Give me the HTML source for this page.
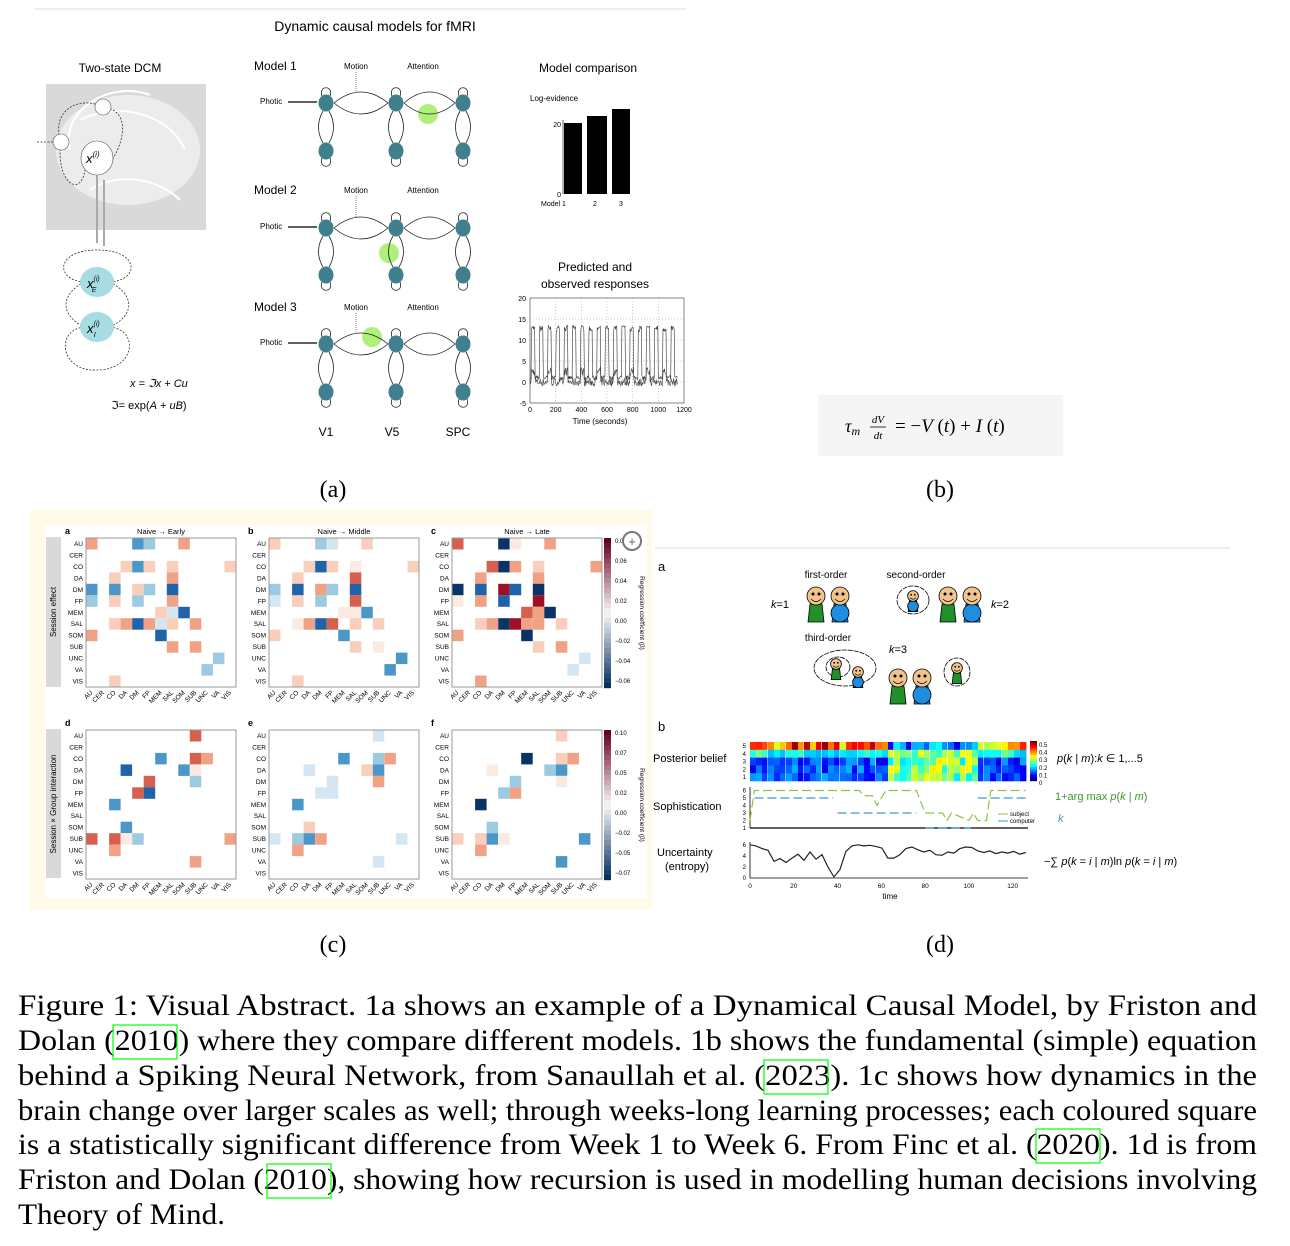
<!DOCTYPE html>
<html><head><meta charset="utf-8">
<style>
html,body{margin:0;padding:0;background:#fff;}
svg{display:block;}
text{font-family:"Liberation Sans",sans-serif;}
.serif{font-family:"Liberation Serif",serif;}
</style></head>
<body>
<svg id="s" width="1290" height="1246" viewBox="0 0 1290 1246" xmlns="http://www.w3.org/2000/svg">
<!-- Panel (a) -->
<line x1="35" y1="9" x2="686" y2="9" stroke="#ddd" stroke-width="1"/>
<text x="375" y="31" font-size="14" text-anchor="middle">Dynamic causal models  for fMRI</text>
<text x="120" y="72" font-size="12" text-anchor="middle">Two-state DCM</text>
<rect x="46" y="84" width="160" height="146" fill="#d9d9d9"/>
<ellipse cx="128" cy="150" rx="72" ry="55" fill="#ececec"/>
<path d="M70 150 C60 110 110 80 150 95 M80 120 C120 100 170 115 185 150 M90 190 C120 170 160 180 180 200" stroke="#fff" fill="none" stroke-width="2"/>
<path d="M61 142 C50 110 80 95 103 107 M103 107 C130 110 125 140 112 160 M61 142 C55 180 80 200 85 170 M37 142 L53 142" stroke="#333" fill="none" stroke-dasharray="2,1.5" stroke-width="0.8"/>
<circle cx="103" cy="107" r="8" fill="#fff" stroke="#555" stroke-width="0.6"/>
<circle cx="61" cy="142" r="8" fill="#fff" stroke="#555" stroke-width="0.6"/>
<ellipse cx="97" cy="158" rx="16" ry="17" fill="#fff" stroke="#555" stroke-width="0.6"/>
<text x="86" y="163" font-size="13" font-style="italic">x<tspan font-size="8" dy="-6">(i)</tspan></text>
<line x1="97" y1="175" x2="97" y2="243" stroke="#aaa" stroke-width="2"/>
<line x1="104" y1="180" x2="104" y2="246" stroke="#aaa" stroke-width="2"/>
<path d="M97 250 C55 250 55 280 84 282 M110 282 C140 280 140 250 97 250 M84 327 C55 330 60 372 97 370 C135 370 140 330 110 327 M84 282 C60 295 60 315 84 327 M110 282 C135 295 135 315 110 327" stroke="#333" fill="none" stroke-dasharray="2,1.5" stroke-width="0.8"/>
<ellipse cx="97" cy="282" rx="17" ry="15" fill="#a8dce3"/>
<ellipse cx="97" cy="327" rx="17" ry="15" fill="#a8dce3"/>
<text x="87" y="288" font-size="13" font-style="italic">x<tspan font-size="7" dy="-7">(i)</tspan><tspan font-size="7" dx="-8" dy="11">E</tspan></text>
<text x="87" y="333" font-size="13" font-style="italic">x<tspan font-size="7" dy="-7">(i)</tspan><tspan font-size="7" dx="-6" dy="11">I</tspan></text>
<text x="130" y="387" font-size="11" font-style="italic">x = ℑx + Cu</text>
<text x="111" y="409" font-size="11">ℑ= exp(<tspan font-style="italic">A</tspan> + <tspan font-style="italic">uB</tspan>)</text>
<g id="models"></g>
<text x="326" y="436" font-size="12" text-anchor="middle">V1</text>
<text x="392" y="436" font-size="12" text-anchor="middle">V5</text>
<text x="458" y="436" font-size="12" text-anchor="middle">SPC</text>
<text x="588" y="72" font-size="12" text-anchor="middle">Model comparison</text>
<text x="530" y="101" font-size="8">Log-evidence</text>
<line x1="563" y1="120" x2="563" y2="194" stroke="#000" stroke-width="0.6"/>
<text x="561" y="127" font-size="7" text-anchor="end">20</text>
<text x="561" y="197" font-size="7" text-anchor="end">0</text>
<rect x="564" y="123" width="18" height="71" fill="#000"/>
<rect x="587" y="116" width="20" height="78" fill="#000"/>
<rect x="612" y="109" width="18" height="85" fill="#000"/>
<text x="541" y="206" font-size="7">Model  1</text>
<text x="595" y="206" font-size="7" text-anchor="middle">2</text>
<text x="621" y="206" font-size="7" text-anchor="middle">3</text>
<text x="595" y="271" font-size="12" text-anchor="middle">Predicted and</text>
<text x="595" y="288" font-size="12" text-anchor="middle">observed responses</text>
<g id="ts"></g>
<text x="600" y="424" font-size="8" text-anchor="middle">Time (seconds)</text>
<text class="serif" x="333" y="497" font-size="24" text-anchor="middle">(a)</text>
<!-- Panel (b) -->
<rect x="818" y="395" width="245" height="61" fill="#f5f5f5"/>
<text class="serif" x="845" y="432" font-size="18" font-style="italic">τ<tspan font-size="12" dy="3">m</tspan></text>
<text class="serif" x="878" y="423" font-size="11" text-anchor="middle" font-style="italic">dV</text>
<line x1="870" y1="427" x2="886" y2="427" stroke="#000" stroke-width="0.8"/>
<text class="serif" x="878" y="439" font-size="11" text-anchor="middle" font-style="italic">dt</text>
<text class="serif" x="895" y="432" font-size="19">= −<tspan font-style="italic">V</tspan> (<tspan font-style="italic">t</tspan>) + <tspan font-style="italic">I</tspan> (<tspan font-style="italic">t</tspan>)</text>
<text class="serif" x="940" y="497" font-size="24" text-anchor="middle">(b)</text>
<!-- Panel (c) -->
<rect x="30" y="510" width="622" height="400" fill="#fffbe8"/>
<rect x="45" y="525" width="602" height="373" fill="#fff"/>
<rect x="46" y="537" width="15" height="150" fill="#d9d9d9"/>
<rect x="46" y="729" width="15" height="149" fill="#d9d9d9"/>
<text transform="translate(56,612) rotate(-90)" font-size="8" text-anchor="middle">Session effect</text>
<text transform="translate(56,804) rotate(-90)" font-size="8" text-anchor="middle">Session × Group interaction</text>
<g id="heat"></g>
<circle cx="632" cy="541" r="9" fill="#fff" stroke="#777" stroke-width="2"/>
<text x="632" y="546" font-size="13" text-anchor="middle" fill="#666">+</text>
<text class="serif" x="333" y="952" font-size="24" text-anchor="middle">(c)</text>
<!-- Panel (d) -->
<line x1="655" y1="548" x2="1230" y2="548" stroke="#ddd"/>
<text x="658" y="571" font-size="13">a</text>
<text x="658" y="731" font-size="13">b</text>
<text x="826" y="578" font-size="10" text-anchor="middle">first-order</text>
<text x="916" y="578" font-size="10" text-anchor="middle">second-order</text>
<text x="828" y="641" font-size="10" text-anchor="middle">third-order</text>
<text x="780" y="608" font-size="11" text-anchor="middle" font-style="italic">k<tspan font-style="normal">=1</tspan></text>
<text x="1000" y="608" font-size="11" text-anchor="middle" font-style="italic">k<tspan font-style="normal">=2</tspan></text>
<text x="898" y="653" font-size="11" text-anchor="middle" font-style="italic">k<tspan font-style="normal">=3</tspan></text>
<g id="people"></g>
<g id="dplots"></g>
<text x="653" y="762" font-size="11">Posterior belief</text>
<text x="653" y="810" font-size="11">Sophistication</text>
<text x="657" y="856" font-size="11">Uncertainty</text>
<text x="665" y="870" font-size="11">(entropy)</text>
<text x="1057" y="762" font-size="11"><tspan font-style="italic">p</tspan>(<tspan font-style="italic">k</tspan> | <tspan font-style="italic">m</tspan>):<tspan font-style="italic">k</tspan> ∈ 1,...5</text>
<text x="1055" y="800" font-size="11" fill="#3a9a2a">1+arg max <tspan font-style="italic">p</tspan>(<tspan font-style="italic">k</tspan> | <tspan font-style="italic">m</tspan>)</text>
<text x="1058" y="822" font-size="11" fill="#3a9ad8" font-style="italic">k</text>
<text x="1044" y="865" font-size="11">−∑ <tspan font-style="italic">p</tspan>(<tspan font-style="italic">k</tspan> = <tspan font-style="italic">i</tspan> | <tspan font-style="italic">m</tspan>)ln <tspan font-style="italic">p</tspan>(<tspan font-style="italic">k</tspan> = <tspan font-style="italic">i</tspan> | <tspan font-style="italic">m</tspan>)</text>
<text x="890" y="899" font-size="8" text-anchor="middle">time</text>
<text class="serif" x="940" y="952" font-size="24" text-anchor="middle">(d)</text>
<!-- Caption -->
<g fill="#000">
<text class="serif" font-size="30" x="18" y="1015" textLength="1239" lengthAdjust="spacingAndGlyphs">Figure 1: Visual Abstract. 1a shows an example of a Dynamical Causal Model, by Friston and</text>
<text class="serif" font-size="30" x="18" y="1050" textLength="1239" lengthAdjust="spacingAndGlyphs">Dolan (2010) where they compare different models. 1b shows the fundamental (simple) equation</text>
<text class="serif" font-size="30" x="18" y="1085" textLength="1239" lengthAdjust="spacingAndGlyphs">behind a Spiking Neural Network, from Sanaullah et al. (2023). 1c shows how dynamics in the</text>
<text class="serif" font-size="30" x="18" y="1120" textLength="1239" lengthAdjust="spacingAndGlyphs">brain change over larger scales as well; through weeks-long learning processes; each coloured square</text>
<text class="serif" font-size="30" x="18" y="1154" textLength="1239" lengthAdjust="spacingAndGlyphs">is a statistically significant difference from Week 1 to Week 6. From Finc et al. (2020). 1d is from</text>
<text class="serif" font-size="30" x="18" y="1189" textLength="1239" lengthAdjust="spacingAndGlyphs">Friston and Dolan (2010), showing how recursion is used in modelling human decisions involving</text>
<text class="serif" font-size="30" x="18" y="1224" textLength="207" lengthAdjust="spacingAndGlyphs">Theory of Mind.</text>
</g>
<g fill="none" stroke="#00ff00" stroke-width="1.2">
<rect x="113" y="1025" width="64" height="34"/>
<rect x="764" y="1060" width="64" height="34"/>
<rect x="1036" y="1129" width="64" height="34"/>
<rect x="267" y="1164" width="64" height="34"/>
</g>
</svg>
<script>
(function(){
var NS="http://www.w3.org/2000/svg";
function el(p,t,a,txt){var e=document.createElementNS(NS,t);for(var k in a)e.setAttribute(k,a[k]);if(txt!=null)e.textContent=txt;document.getElementById(p).appendChild(e);return e;}
var seed=7;function rnd(){seed=(seed*16807)%2147483647;return seed/2147483647;}
var xs=[326,396,463],rows=[[103,151,66,"1"],[228,275,190,"2"],[344,392,307,"3"]];
var greens=[[428,114],[389,253],[372,337]];
rows.forEach(function(r,i){
 el("models","text",{x:254,y:r[2]+4,"font-size":12},"Model "+r[3]);
 el("models","text",{x:356,y:r[2]+3,"font-size":8,"text-anchor":"middle"},"Motion");
 el("models","text",{x:423,y:r[2]+3,"font-size":8,"text-anchor":"middle"},"Attention");
 el("models","text",{x:260,y:r[0]+1,"font-size":8},"Photic");
 el("models","line",{x1:288,y1:r[0]-1,x2:317,y2:r[0]-1,stroke:"#000","stroke-width":1.2});
 el("models","circle",{cx:greens[i][0],cy:greens[i][1],r:10,fill:"#aef07a"});
 for(var j=0;j<2;j++){var a=xs[j]+8,b=xs[j+1]-8,m=(a+b)/2;
  el("models","path",{d:"M"+a+" "+r[0]+" Q"+m+" "+(r[0]-22)+" "+b+" "+r[0]+" Q"+m+" "+(r[0]+22)+" "+a+" "+r[0],fill:"none",stroke:"#222","stroke-width":0.8});}
 el("models","line",{x1:356,y1:r[2]+6,x2:356,y2:r[0]-11,stroke:"#333","stroke-dasharray":"1,1","stroke-width":0.6});
 xs.forEach(function(x){
  el("models","path",{d:"M"+(x-3)+" "+(r[0]+8)+" Q"+(x-12)+" "+((r[0]+r[1])/2)+" "+(x-3)+" "+(r[1]-8)+" M"+(x+3)+" "+(r[0]+8)+" Q"+(x+12)+" "+((r[0]+r[1])/2)+" "+(x+3)+" "+(r[1]-8),fill:"none",stroke:"#222","stroke-width":0.8});
  el("models","path",{d:"M"+(x-4)+" "+(r[0]-7)+" C"+(x-8)+" "+(r[0]-18)+" "+(x+8)+" "+(r[0]-18)+" "+(x+4)+" "+(r[0]-7),fill:"none",stroke:"#222","stroke-width":0.8});
  el("models","path",{d:"M"+(x-4)+" "+(r[1]+7)+" C"+(x-8)+" "+(r[1]+18)+" "+(x+8)+" "+(r[1]+18)+" "+(x+4)+" "+(r[1]+7),fill:"none",stroke:"#222","stroke-width":0.8});
  el("models","ellipse",{cx:x,cy:r[0],rx:7.5,ry:8.5,fill:"#3f7f8e"});
  el("models","ellipse",{cx:x,cy:r[1],rx:7.5,ry:8.5,fill:"#3f7f8e"});
 });
});
var X0=530,X1=684,Y0=298,Y1=403;
el("ts","rect",{x:X0,y:Y0,width:X1-X0,height:Y1-Y0,fill:"none",stroke:"#333","stroke-width":0.6});
[20,15,10,5,0,-5].forEach(function(v){var y=Y1-(v+5)*(Y1-Y0)/25;el("ts","text",{x:X0-4,y:y+3,"font-size":7,"text-anchor":"end"},v);
 if(v<20&&v>-5)el("ts","line",{x1:X0,y1:y,x2:X1,y2:y,stroke:"#999","stroke-dasharray":"1,2","stroke-width":0.5});});
for(var t=0;t<=1200;t+=200){var x=X0+t*(X1-X0)/1200;el("ts","text",{x:x,y:Y1+9,"font-size":7,"text-anchor":"middle"},t);
 if(t>0&&t<1200)el("ts","line",{x1:x,y1:Y0,x2:x,y2:Y1,stroke:"#999","stroke-dasharray":"1,2","stroke-width":0.5});}
function yv(v){return Y1-(v+5)*(Y1-Y0)/25;}
var p1="",p2="";
for(var t=0;t<=1150;t+=4){var x=X0+t*(X1-X0)/1200;var ph=(t%64);var on=ph>10&&ph<40;var v=on?12+rnd()*1.5:0.5+rnd();var w=on&&(t%128<64)?2.5:0;
 p1+=(t?"L":"M")+x.toFixed(1)+" "+yv(v).toFixed(1);p2+=(t?"L":"M")+x.toFixed(1)+" "+yv(w+rnd()*2-1).toFixed(1);}
el("ts","path",{d:p1,fill:"none",stroke:"#333","stroke-width":0.6});
el("ts","path",{d:p2,fill:"none",stroke:"#444","stroke-width":0.6});
var labs=["AU","CER","CO","DA","DM","FP","MEM","SAL","SOM","SUB","UNC","VA","VIS"];
var C={r0:"#fbeae2",r1:"#f9cfbb",r2:"#f1a184",r3:"#d6604d",r4:"#9c1028",b1:"#d3e6f2",b2:"#9ccae1",b3:"#4a97c8",b4:"#1f63a8",b5:"#0a3466"};
var P=[
["0,0r2 0,4b3 0,5b2 0,8r2 2,3r1 2,4b3 2,5r1 2,7r1 2,12r1 3,2r1 3,7r2 4,0b3 4,2b3 4,4r1 4,5b2 4,7b4 5,0b2 5,2r1 5,4b2 5,7r2 6,6r1 6,7b1 6,8b4 7,2r1 7,3r2 7,4b4 7,5r2 7,6b1 7,7r1 7,9r2 8,0r2 8,6b4 9,7r2 9,9r2 10,11b2 11,10b2 12,2r1",86,538,"a","Naive → Early"],
["0,0r1 0,4b2 0,5b1 0,8r1 2,3r1 2,4b4 2,5r1 2,7r0 2,12r1 3,2r1 3,7r3 4,0b2 4,2b4 4,4r2 4,5b2 4,7b4 5,0b1 5,2r1 5,4b2 5,7r3 6,6r0 6,7r0 6,8b3 7,2r0 7,3r2 7,4b4 7,5r3 7,7r1 7,9r1 8,0r1 8,6b3 9,7r1 9,9r0 10,11b3 11,10b3 12,2r1",269,538,"b","Naive → Middle"],
["0,0r3 0,4b5 0,5r0 0,8r2 2,3r3 2,4b5 2,5r2 2,7r1 2,12r2 3,2r2 3,7r2 4,0b5 4,2b4 4,4r4 4,5b4 4,7b5 5,0r0 5,2r2 5,4b4 5,7r4 6,6r3 6,7r2 6,8b5 7,2r1 7,3r2 7,4b5 7,5r4 7,6r2 7,7r2 7,9r1 8,0r2 8,6b5 9,7r1 9,9r2 10,11b1 11,10b1 12,2r2",452,538,"c","Naive → Late"],
["0,9r3 2,6b3 2,9r3 2,10r2 3,3b4 3,8b3 3,9r0 4,5r3 4,9b2 5,4r3 5,5b4 6,2b3 8,3b3 9,0r3 9,2r3 9,3r0 9,4b2 9,12r2 10,2r2 11,9r2",86,730,"d",""],
["0,9b1 2,6b3 2,9b2 2,10r2 3,3b1 3,8r1 3,9b3 4,5b1 4,9r2 5,4b1 5,5b1 6,2b3 8,3r1 9,0b1 9,2b2 9,3b3 9,4r2 9,11b1 10,2r2 11,9b1",269,730,"e",""],
["0,9r1 2,6b5 2,9r1 2,10r2 3,3r0 3,8b2 3,9b3 4,5b2 4,9r0 5,4b2 5,5r2 6,2b5 8,3b2 9,0r1 9,2r1 9,3b3 9,4r0 9,11b3 10,2r2 11,9b3",452,730,"f",""]];
var cs=150/13;
P.forEach(function(p){var x0=p[1],y0=p[2];
 p[0].split(" ").forEach(function(s){var m=s.match(/(\d+),(\d+)(\w\d)/);
  el("heat","rect",{x:(x0+(+m[2])*cs).toFixed(1),y:(y0+(+m[1])*(149/13)).toFixed(1),width:cs.toFixed(1),height:(149/13).toFixed(1),fill:C[m[3]]});});
 el("heat","rect",{x:x0,y:y0,width:150,height:149,fill:"none",stroke:"#999","stroke-width":1});
 el("heat","text",{x:x0-21,y:y0-4,"font-size":9,"font-weight":"bold"},p[3]);
 if(p[4])el("heat","text",{x:x0+75,y:y0-4,"font-size":7.5,"text-anchor":"middle"},p[4]);
 labs.forEach(function(l,i){
  el("heat","text",{x:x0-3,y:y0+i*149/13+8,"font-size":6.5,"text-anchor":"end"},l);
  var cx=x0+i*cs+7;el("heat","text",{transform:"translate("+cx+","+(y0+155)+") rotate(-45)","font-size":6.5,"text-anchor":"end"},l);});
});
function cbar(y0,labels){
 for(var i=0;i<30;i++){var t=i/29;var col=t<0.5?"rgb("+Math.round(5+t*2*245)+","+Math.round(48+t*2*200)+","+Math.round(97+t*2*155)+")":"rgb("+Math.round(250-(t-0.5)*2*147)+","+Math.round(248-(t-0.5)*2*248)+","+Math.round(252-(t-0.5)*2*220)+")";
  el("heat","rect",{x:604,y:(y0+150-(i+1)*5).toFixed(1),width:7,height:5.2,fill:col});}
 labels.forEach(function(l,i){el("heat","text",{x:615,y:y0+5+i*(140/(labels.length-1)),"font-size":6},l);});
 el("heat","text",{transform:"translate(640,"+(y0+75)+") rotate(90)","font-size":6.5,"text-anchor":"middle"},"Regression coefficient (β)");}
cbar(538,["0.08","0.06","0.04","0.02","0.00","−0.02","−0.04","−0.06"]);
cbar(730,["0.10","0.07","0.05","0.02","0.00","−0.02","−0.05","−0.07"]);
function person(x,y,s,col){el("people","path",{d:"M"+(x-8*s)+" "+(y+26*s)+" L"+(x-6*s)+" "+(y+8*s)+" L"+(x+6*s)+" "+(y+8*s)+" L"+(x+8*s)+" "+(y+26*s)+" Z",fill:col,stroke:"#000","stroke-width":0.8});
 if(col=="#1e8fe0")el("people","circle",{cx:x,cy:y+17*s,r:9*s,fill:col,stroke:"#000","stroke-width":0.8});
 el("people","circle",{cx:x,cy:y,r:9*s,fill:"#f1c48d",stroke:"#000","stroke-width":0.8});
 el("people","circle",{cx:x-3*s,cy:y-2*s,r:1.5*s,fill:"#000"});el("people","circle",{cx:x+3*s,cy:y-2*s,r:1.5*s,fill:"#000"});
 el("people","path",{d:"M"+(x-5*s)+" "+(y+3*s)+" Q"+x+" "+(y+8*s)+" "+(x+5*s)+" "+(y+3*s),fill:"none",stroke:"#000","stroke-width":0.7});}
function cloud(x,y,rx,ry){el("people","ellipse",{cx:x,cy:y,rx:rx,ry:ry,fill:"#fff",stroke:"#000","stroke-width":0.8,"stroke-dasharray":"5,1"});}
var G="#22902a",B="#1e8fe0";
person(816,596,1,G);person(840,596,1,B);
cloud(913,600,16,14);person(913,596,0.6,B);person(948,596,1,G);person(972,596,1,B);
cloud(845,668,31,18);cloud(838,667,12,10);person(836,664,0.6,G);person(858,672,0.6,B);
person(898,678,1,G);person(922,678,1,B);cloud(957,672,13,14);person(957,668,0.6,G);
function jet(v){var r=Math.min(1,Math.max(0,1.5-Math.abs(4*v-3))),g=Math.min(1,Math.max(0,1.5-Math.abs(4*v-2))),b=Math.min(1,Math.max(0,1.5-Math.abs(4*v-1)));return "rgb("+Math.round(r*255)+","+Math.round(g*255)+","+Math.round(b*255)+")";}
var hx0=750,hx1=1026,hy0=742,hy1=781,nc=46,cw=(hx1-hx0)/nc;
for(var c=0;c<nc;c++){var late=c>22&&c<38;
 for(var r=0;r<5;r++){var v;
  if(r==0)v=late?0.1+rnd()*0.3:0.55+rnd()*0.45;else if(r==1)v=late?0.35+rnd()*0.3:0.3+rnd()*0.2;else v=late?0.35+rnd()*0.3:0.1+rnd()*0.2;
  el("dplots","rect",{x:(hx0+c*cw).toFixed(1),y:(hy0+r*(hy1-hy0)/5).toFixed(1),width:(cw+0.4).toFixed(1),height:((hy1-hy0)/5+0.3).toFixed(1),fill:jet(v)});}
 if(c%3==2&&c<44)el("dplots","line",{x1:hx0+(c+1)*cw,y1:hy0,x2:hx0+(c+1)*cw,y2:hy1,stroke:"#fff","stroke-width":1});}
["5","4","3","2","1"].forEach(function(l,i){el("dplots","text",{x:746,y:hy0+6+i*7.8,"font-size":6,"text-anchor":"end"},l);});
for(var i=0;i<20;i++)el("dplots","rect",{x:1030,y:(hy1-(i+1)*2).toFixed(1),width:7,height:2.2,fill:jet(i/19)});
["0.5","0.4","0.3","0.2","0.1","0"].forEach(function(l,i){el("dplots","text",{x:1039,y:hy0+5+i*7.6,"font-size":6},l);});
var sx0=750,sx1=1028,sy0=789,sy1=828;function tx(t){return sx0+t*(sx1-sx0)/127;}function sy(v){return sy1-(v-1)*(sy1-sy0)/5.2;}
el("dplots","line",{x1:sx0,y1:sy0-2,x2:sx0,y2:sy1,stroke:"#000","stroke-width":0.8});el("dplots","line",{x1:sx0,y1:sy1,x2:sx1,y2:sy1,stroke:"#000","stroke-width":1.2});
for(var v=1;v<=6;v++)el("dplots","text",{x:746,y:sy(v)+2,"font-size":6,"text-anchor":"end"},v);
var gp="M"+tx(0)+" "+sy(2)+" L"+tx(2)+" "+sy(6)+" L"+tx(50)+" "+sy(6)+" L"+tx(52)+" "+sy(5.3)+" L"+tx(56)+" "+sy(5.3)+" L"+tx(58)+" "+sy(4)+" L"+tx(62)+" "+sy(6)+" L"+tx(76)+" "+sy(6)+" L"+tx(80)+" "+sy(3)+" L"+tx(88)+" "+sy(3)+" L"+tx(90)+" "+sy(2)+" L"+tx(92)+" "+sy(3)+" L"+tx(100)+" "+sy(2)+" L"+tx(102)+" "+sy(3)+" L"+tx(104)+" "+sy(2)+" L"+tx(108)+" "+sy(2)+" L"+tx(110)+" "+sy(6)+" L"+tx(126)+" "+sy(6);
el("dplots","path",{d:gp,fill:"none",stroke:"#8cc63f","stroke-width":1.2,"stroke-dasharray":"9,4"});
[[2,38,5],[40,76,3],[80,101,1],[104,126,5]].forEach(function(s){el("dplots","line",{x1:tx(s[0]),y1:sy(s[2]),x2:tx(s[1]),y2:sy(s[2]),stroke:"#3a9ad8","stroke-width":1.2,"stroke-dasharray":"9,4"});});
el("dplots","line",{x1:998,y1:814,x2:1008,y2:814,stroke:"#8cc63f"});el("dplots","text",{x:1010,y:816,"font-size":6},"subject");
el("dplots","line",{x1:998,y1:821,x2:1008,y2:821,stroke:"#3a9ad8"});el("dplots","text",{x:1010,y:823,"font-size":6},"computer");
var uy0=842,uy1=878;function uy(v){return uy1-v*(uy1-uy0)/6.5;}
el("dplots","line",{x1:sx0,y1:uy0,x2:sx0,y2:uy1,stroke:"#000","stroke-width":0.8});el("dplots","line",{x1:sx0,y1:uy1,x2:sx1,y2:uy1,stroke:"#000","stroke-width":0.8});
[0,2,4,6].forEach(function(v){el("dplots","text",{x:746,y:uy(v)+2,"font-size":6,"text-anchor":"end"},v);});
[0,20,40,60,80,100,120].forEach(function(t){el("dplots","text",{x:tx(t),y:888,"font-size":6.5,"text-anchor":"middle"},t);});
var up="",vals=[6,5.8,5.3,5,3,3.5,2.8,3.6,4.3,3.2,4.7,3.4,4.2,2,0.2,1.5,4.8,5.8,6,5.8,5.9,5.7,5.4,3.6,3.6,4.2,5.3,5.6,5.1,4.7,5,4.2,4.1,4.7,4.5,5.3,5.6,5.5,4.9,4.6,4.9,4.4,4.7,4.5,4.8,4.3,4.6];
vals.forEach(function(v,i){up+=(i?"L":"M")+tx(i*126/(vals.length-1)).toFixed(1)+" "+uy(v).toFixed(1);});
el("dplots","path",{d:up,fill:"none",stroke:"#222","stroke-width":1.2});
})();
</script>
</body></html>
